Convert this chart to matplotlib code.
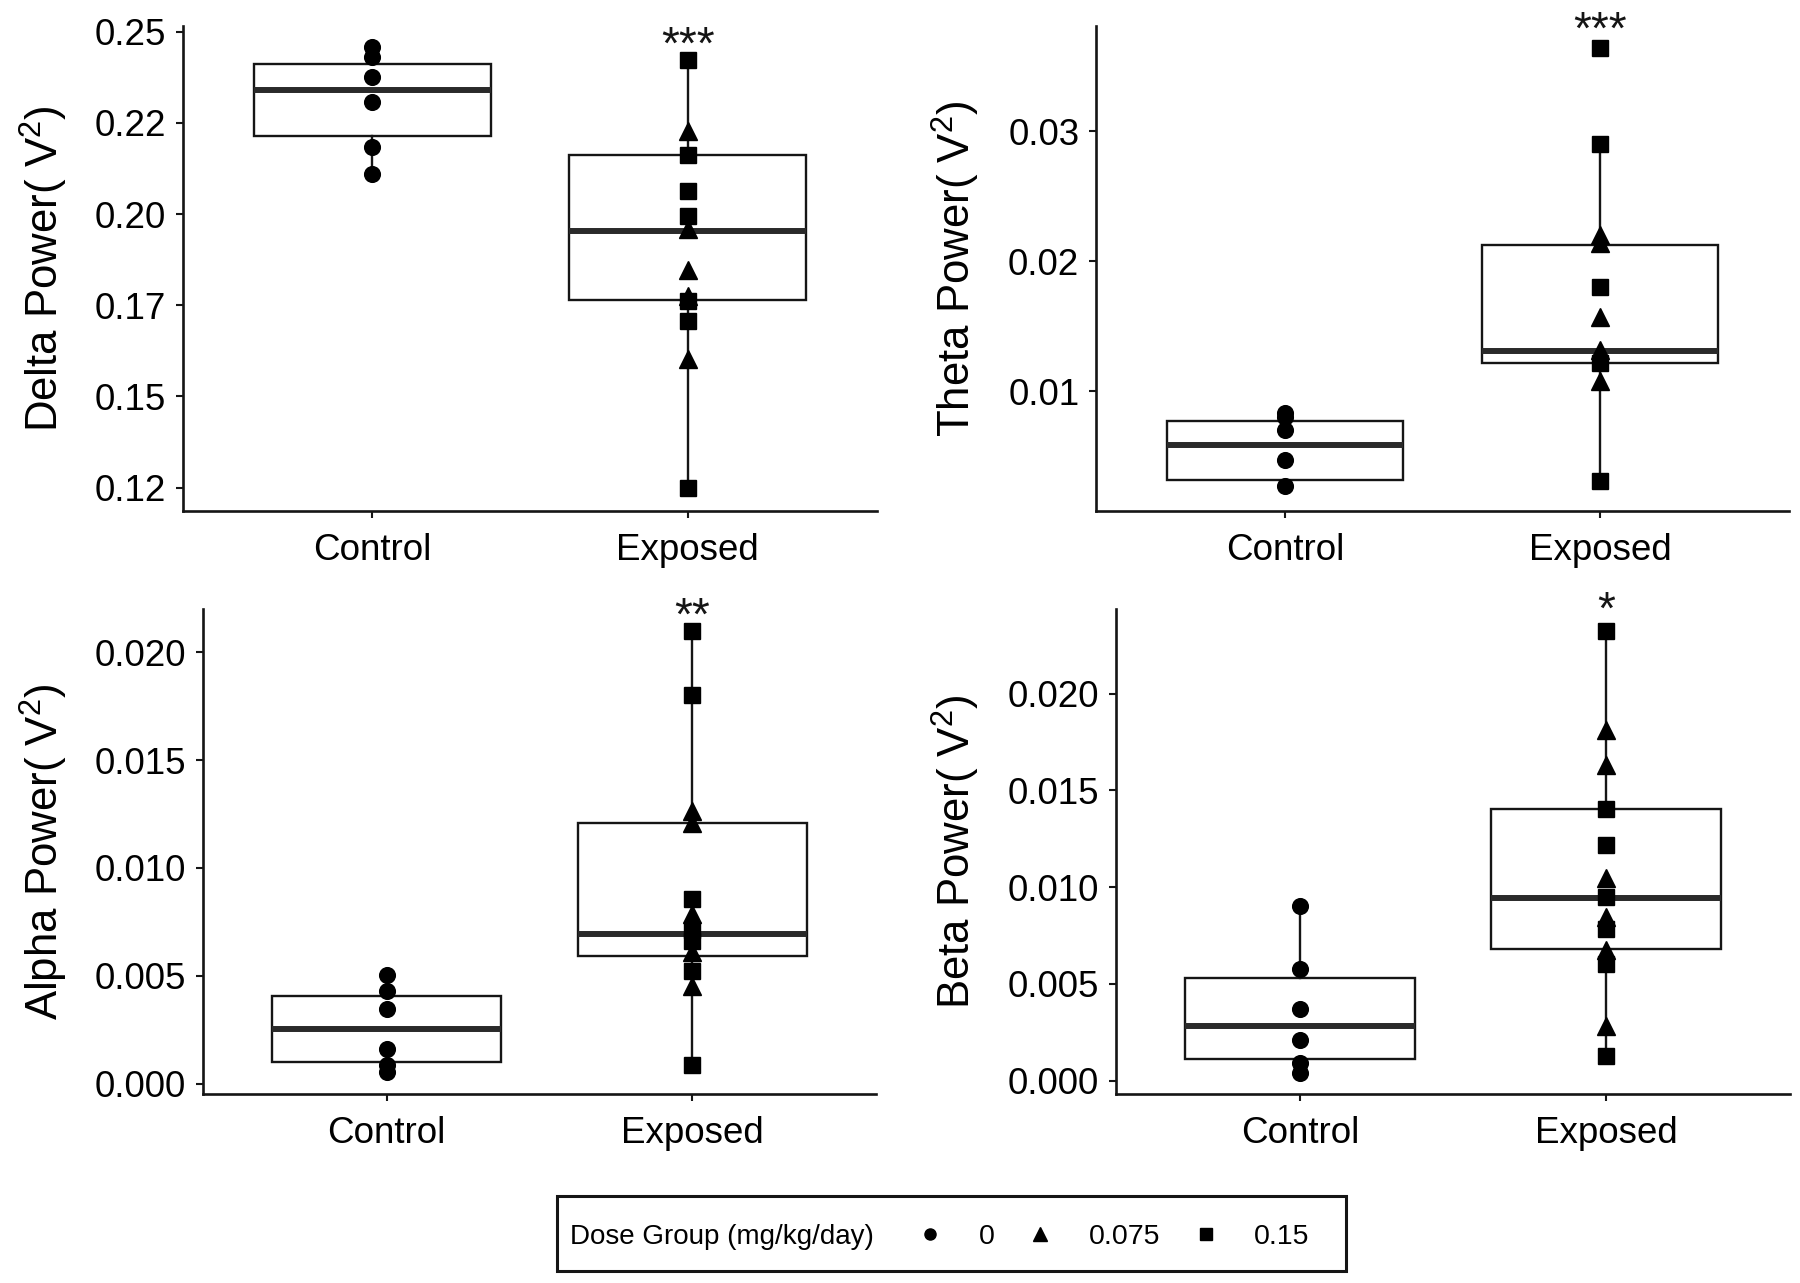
import matplotlib
matplotlib.use('Agg')
import matplotlib.pyplot as plt
from matplotlib.lines import Line2D
from matplotlib.patches import Rectangle
import matplotlib.transforms as mtransforms

plt.rcParams['font.family'] = ['Liberation Sans', 'DejaVu Sans']
plt.rcParams['mathtext.fontset'] = 'custom'
plt.rcParams['mathtext.rm'] = 'Liberation Sans'

categories = ['Control', 'Exposed']
dose_labels = ['0', '0.075', '0.15']
legend_title = 'Dose Group (mg/kg/day)'

# ---------------- Delta ----------------
delta_control = [0.2459, 0.2430, 0.2375, 0.2307, 0.2184, 0.2111]
delta_exp_075 = [0.2229, 0.1960, 0.1848, 0.1775, 0.1603]
delta_exp_015 = [0.2424, 0.2163, 0.2064, 0.1996, 0.1762, 0.1707, 0.1249]
delta_q1 = [0.2214, 0.1764]
delta_med = [0.2341, 0.1955]
delta_q3 = [0.2413, 0.2163]
delta_lo = [0.2111, 0.1249]
delta_hi = [0.2459, 0.2424]
delta_ticks = [0.125, 0.15, 0.175, 0.20, 0.225, 0.25]
delta_ticklabels = ['0.12', '0.15', '0.17', '0.20', '0.22', '0.25']
delta_ylim = (0.1186, 0.2516)
delta_stars = '***'

# ---------------- Theta ----------------
theta_control = [0.00835, 0.0080, 0.0070, 0.0047, 0.0027]
theta_exp_075 = [0.0220, 0.0214, 0.0157, 0.0132, 0.0108]
theta_exp_015 = [0.0364, 0.0290, 0.0180, 0.0122, 0.0031]
theta_q1 = [0.00319, 0.0122]
theta_med = [0.00587, 0.01308]
theta_q3 = [0.00772, 0.02129]
theta_lo = [0.0027, 0.0031]
theta_hi = [0.00835, 0.0290]
theta_ticks = [0.01, 0.02, 0.03]
theta_ticklabels = ['0.01', '0.02', '0.03']
theta_ylim = (0.00079, 0.0381)
theta_stars = '***'

# ---------------- Alpha ----------------
alpha_control = [0.00505, 0.0043, 0.00347, 0.0016, 0.00085, 0.00055]
alpha_exp_075 = [0.01265, 0.0121, 0.00784, 0.0061, 0.00453]
alpha_exp_015 = [0.0210, 0.0180, 0.00858, 0.0071, 0.0066, 0.00522, 0.00086]
alpha_q1 = [0.0010, 0.00593]
alpha_med = [0.00255, 0.00692]
alpha_q3 = [0.00404, 0.01206]
alpha_lo = [0.00055, 0.00086]
alpha_hi = [0.00505, 0.0210]
alpha_ticks = [0.0, 0.005, 0.010, 0.015, 0.020]
alpha_ticklabels = ['0.000', '0.005', '0.010', '0.015', '0.020']
alpha_ylim = (-0.00048, 0.0220)
alpha_stars = '**'

# ---------------- Beta ----------------
beta_control = [0.00903, 0.00577, 0.00368, 0.00211, 0.00092, 0.00041]
beta_exp_075 = [0.01811, 0.01634, 0.01050, 0.00845, 0.00674, 0.00283]
beta_exp_015 = [0.02322, 0.01405, 0.01217, 0.00948, 0.00785, 0.00605, 0.00128]
beta_q1 = [0.00113, 0.00678]
beta_med = [0.00283, 0.00943]
beta_q3 = [0.00531, 0.01405]
beta_lo = [0.00041, 0.00128]
beta_hi = [0.00903, 0.02322]
beta_ticks = [0.0, 0.005, 0.010, 0.015, 0.020]
beta_ticklabels = ['0.000', '0.005', '0.010', '0.015', '0.020']
beta_ylim = (-0.00069, 0.02438)
beta_stars = '*'

W, H = 1800, 1283
fig = plt.figure(figsize=(W / 100, H / 100), dpi=100)


def px_axes(left, right, top, bottom):
    return fig.add_axes([left / W, 1 - bottom / H, (right - left) / W, (bottom - top) / H])


INK = '#151515'
TICK_FS = 26.5
LABEL_FS = 31.5


def draw_panel(ax, name, control, e075, e015, q1, med, q3, lo, hi,
               ticks, ticklabels, ylim, stars, label_x, star_off):
    stats = [dict(med=med[i], q1=q1[i], q3=q3[i], whislo=lo[i], whishi=hi[i],
                  fliers=[]) for i in range(2)]
    ax.bxp(stats, positions=[1, 2], widths=0.75, showcaps=False, showfliers=False,
           patch_artist=True, manage_ticks=False,
           boxprops=dict(facecolor='white', edgecolor=INK, linewidth=1.7),
           medianprops=dict(color='#2a2a2a', linewidth=4.3, solid_capstyle='butt'),
           whiskerprops=dict(color=INK, linewidth=1.7))
    ax.plot([1] * len(control), control, linestyle='none', marker='o', ms=11.3,
            color='black', zorder=4)
    ax.plot([2] * len(e075), e075, linestyle='none', marker='^', ms=13.5,
            color='black', zorder=4)
    ax.plot([2] * len(e015), e015, linestyle='none', marker='s', ms=12.2,
            color='black', zorder=4)
    top = max(e075 + e015)
    ax.annotate(stars, xy=(2, top), xytext=(0, star_off), textcoords='offset points',
                ha='center', va='center', fontsize=33, color=INK,
                annotation_clip=False)

    ax.set_xlim(0.4, 2.6)
    ax.set_ylim(*ylim)
    ax.set_xticks([1, 2])
    ax.set_xticklabels(categories)
    ax.set_yticks(ticks)
    ax.set_yticklabels(ticklabels)
    ax.tick_params(axis='both', labelsize=TICK_FS, length=5, width=1.5,
                   color=INK, labelcolor='black', direction='out')
    ax.tick_params(axis='x', pad=11)
    ax.tick_params(axis='y', pad=7)
    for s in ('top', 'right'):
        ax.spines[s].set_visible(False)
    for s in ('left', 'bottom'):
        ax.spines[s].set_linewidth(1.9)
        ax.spines[s].set_color(INK)
    ax.set_ylabel(name + ' Power( $\\mathregular{V^2}$)', fontsize=LABEL_FS)
    tr = mtransforms.blended_transform_factory(fig.transFigure, ax.transAxes)
    ax.yaxis.set_label_coords(label_x / W, 0.5, transform=tr)


ax_d = px_axes(183, 877, 26, 511)
ax_t = px_axes(1096, 1789, 26, 511)
ax_a = px_axes(203, 876, 609, 1094)
ax_b = px_axes(1116, 1790, 609, 1094)

draw_panel(ax_d, 'Delta', delta_control, delta_exp_075, delta_exp_015,
           delta_q1, delta_med, delta_q3, delta_lo, delta_hi,
           delta_ticks, delta_ticklabels, delta_ylim, delta_stars, 70, 9)
draw_panel(ax_t, 'Theta', theta_control, theta_exp_075, theta_exp_015,
           theta_q1, theta_med, theta_q3, theta_lo, theta_hi,
           theta_ticks, theta_ticklabels, theta_ylim, theta_stars, 982, 12)
draw_panel(ax_a, 'Alpha', alpha_control, alpha_exp_075, alpha_exp_015,
           alpha_q1, alpha_med, alpha_q3, alpha_lo, alpha_hi,
           alpha_ticks, alpha_ticklabels, alpha_ylim, alpha_stars, 70, 9)
draw_panel(ax_b, 'Beta', beta_control, beta_exp_075, beta_exp_015,
           beta_q1, beta_med, beta_q3, beta_lo, beta_hi,
           beta_ticks, beta_ticklabels, beta_ylim, beta_stars, 982, 14)

# ---------------- Legend ----------------
frame = Rectangle((557 / W, 1 - 1271 / H), (1346 - 557) / W, (1271 - 1196) / H,
                  transform=fig.transFigure, facecolor='white', edgecolor=INK,
                  linewidth=2.2, zorder=0)
fig.add_artist(frame)
fig.text(570 / W, 1 - 1237 / H, legend_title, fontsize=20, ha='left',
         va='center', color='black')
handles = [Line2D([], [], linestyle='none', marker=m, ms=s, color='black')
           for m, s in zip(['o', '^', 's'], [8.0, 10.0, 8.5])]
fig.legend(handles, dose_labels, ncol=3, frameon=False, fontsize=20.5,
           loc='center left', bbox_to_anchor=(919 / W, 1 - 1237 / H),
           borderpad=0, borderaxespad=0, handlelength=0.8, handletextpad=1.3,
           columnspacing=1.2)

fig.savefig('out.png', dpi=100, facecolor='white')
